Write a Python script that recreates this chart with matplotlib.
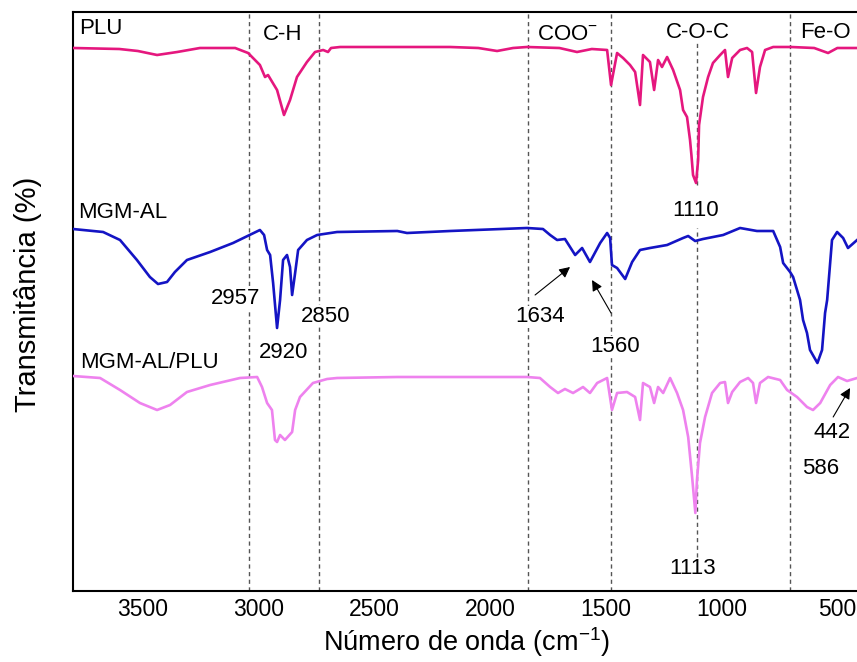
import numpy as np
import matplotlib
matplotlib.use("Agg")
import matplotlib.pyplot as plt

plt.rcParams['font.family'] = ['Liberation Sans', 'DejaVu Sans']
plt.rcParams['mathtext.fontset'] = 'custom'
plt.rcParams['mathtext.rm'] = 'Liberation Sans'
plt.rcParams['mathtext.default'] = 'rm'

## spectra (wavenumber in cm-1, stacked transmittance in arbitrary units)
plu_wn = [3800, 3600, 3520, 3437, 3350, 3252, 3100, 3044, 2993, 2971, 2958, 2919, 2889,
          2863, 2833, 2790, 2755, 2720, 2699, 2686, 2647, 2400, 2172, 2050, 1969, 1900,
          1840, 1700, 1624, 1560, 1494, 1477, 1451, 1425, 1395, 1373, 1352, 1339, 1309,
          1291, 1274, 1257, 1235, 1209, 1179, 1166, 1149, 1136, 1130, 1123, 1110, 1101,
          1097, 1080, 1058, 1037, 1006, 985, 972, 954, 920, 890, 868, 851, 834, 812,
          777, 700, 600, 540, 500, 400]
plu_t = [543, 542, 540, 536, 539, 543, 543, 538, 526, 514, 516, 501, 476,
         491, 514, 529, 539, 541, 539, 543, 544, 544, 544, 543, 540, 543,
         544, 543, 539, 542, 541, 506, 538, 533, 526, 519, 486, 536, 529,
         501, 531, 524, 534, 521, 501, 481, 474, 451, 436, 416, 408, 431,
         466, 494, 514, 528, 536, 541, 514, 533, 541, 543, 539, 498, 524, 541,
         544, 544, 543, 538, 543, 543]

mgm_wn = [3800, 3670, 3597, 3524, 3468, 3433, 3394, 3360, 3308, 3208, 3109, 2993, 2975,
          2962, 2949, 2936, 2919, 2906, 2893, 2876, 2863, 2854, 2841, 2828, 2790, 2746,
          2660, 2400, 2358, 2172, 1840, 1771, 1740, 1710, 1676, 1654, 1632, 1602, 1568,
          1524, 1494, 1481, 1473, 1451, 1416, 1386, 1352, 1309, 1235, 1166, 1144, 1114,
          1080, 993, 920, 847, 777, 747, 734, 704, 691, 674, 661, 648, 631, 618, 586,
          566, 553, 544, 523, 501, 475, 454, 400]
mgm_t = [362, 359, 351, 331, 314, 307, 309, 319, 331, 339, 348, 361, 356,
         341, 336, 308, 263, 291, 331, 336, 324, 296, 318, 341, 351, 356,
         359, 360, 358, 360, 363, 362, 356, 351, 352, 344, 336, 343, 329,
         348, 358, 353, 326, 323, 312, 329, 341, 343, 346, 353, 355, 350,
         352, 356, 363, 360, 360, 344, 328, 319, 314, 301, 291, 271, 258, 241, 228,
         241, 278, 291, 351, 359, 353, 343, 354]

mix_wn = [3800, 3683, 3597, 3511, 3437, 3381, 3308, 3208, 3079, 3005, 2984, 2962, 2941,
          2928, 2919, 2906, 2885, 2854, 2841, 2820, 2764, 2703, 2660, 2400, 2172, 1840,
          1784, 1740, 1706, 1676, 1641, 1598, 1568, 1537, 1494, 1473, 1451, 1408, 1373,
          1352, 1339, 1309, 1291, 1274, 1252, 1222, 1192, 1166, 1144, 1127, 1113, 1106,
          1093, 1071, 1041, 1006, 985, 972, 954, 920, 885, 864, 851, 834, 799, 747,
          717, 674, 631, 605, 574, 531, 497, 458, 400]
mix_t = [215, 213, 201, 188, 181, 186, 199, 206, 213, 214, 204, 188, 181,
         151, 149, 156, 151, 159, 181, 194, 208, 212, 213, 214, 214, 214,
         213, 204, 198, 202, 198, 204, 198, 208, 213, 181, 198, 199, 194,
         171, 208, 204, 188, 204, 198, 213, 198, 181, 154, 114, 78, 111,
         148, 174, 198, 208, 209, 188, 199, 209, 213, 208, 188, 208, 214, 211,
         201, 194, 184, 181, 188, 206, 214, 210, 214]

band_lines = [3040, 2740, 1835, 1477, 704]
coc_line = 1106

fig = plt.figure(figsize=(8.57, 6.62), dpi=100)
ax = fig.add_axes([73/857, 71/662, 787.5/857, 579/662])

for xv in band_lines:
    ax.plot([xv, xv], [0, 579], color='#555555', lw=1, dashes=(3, 2.5), zorder=1)
ax.plot([coc_line, coc_line], [406, 549], color='#555555', lw=1, dashes=(3, 2.5), zorder=1)
ax.plot([coc_line, coc_line], [34, 363], color='#555555', lw=1, dashes=(3, 2.5), zorder=1)

ax.plot(plu_wn, plu_t, color='#e5177e', lw=1.9, zorder=5)
ax.plot(mgm_wn, mgm_t, color='#1414c4', lw=1.9, zorder=5)
ax.plot(mix_wn, mix_t, color='#ee82ee', lw=1.9, zorder=5)

ax.set_xlim(3800, 400)
ax.set_ylim(0, 579)
ax.set_xticks([3500, 3000, 2500, 2000, 1500, 1000, 500])
ax.set_yticks([])
ax.tick_params(axis='x', length=0, pad=5, labelsize=16.5)
for s in ax.spines.values():
    s.set_linewidth(1.5)

box = dict(facecolor='white', edgecolor='none', pad=0.5)
fs = 16
ax.text(3774, 562, "PLU", fontsize=fs, ha='left', va='center')
ax.text(2893, 556, "C-H", fontsize=fs, ha='center', va='center')
ax.text(1665, 557, "COO$^{-}$", fontsize=fs, ha='center', va='center')
ax.text(1101, 559, "C-O-C", fontsize=fs, ha='center', va='center')
ax.text(553, 559, "Fe-O", fontsize=fs, ha='center', va='center')
ax.text(3778, 378, "MGM-AL", fontsize=fs, ha='left', va='center')
ax.text(3770, 229, "MGM-AL/PLU", fontsize=fs, ha='left', va='center')

ax.text(3096, 293, "2957", fontsize=fs, ha='center', va='center', bbox=box, zorder=3)
ax.text(2708, 275, "2850", fontsize=fs, ha='center', va='center', bbox=box, zorder=3)
ax.text(2889, 238, "2920", fontsize=fs, ha='center', va='center', bbox=box, zorder=3)
ax.text(1784, 274, "1634", fontsize=fs, ha='center', va='center', bbox=box, zorder=3)
ax.text(1460, 244, "1560", fontsize=fs, ha='center', va='center', bbox=box, zorder=3)
ax.text(1114, 381, "1110", fontsize=fs, ha='center', va='center', bbox=box, zorder=3)
ax.text(523, 158, "442", fontsize=fs, ha='center', va='center', bbox=box, zorder=3)
ax.text(570, 122, "586", fontsize=fs, ha='center', va='center', bbox=box, zorder=3)
ax.text(1123, 22, "1113", fontsize=fs, ha='center', va='center', bbox=box, zorder=3)

arr = dict(arrowstyle='-|>', color='black', lw=0.8, mutation_scale=16, shrinkA=0, shrinkB=0)
ax.annotate("", xy=(1654, 324), xytext=(1805, 296), arrowprops=arr, zorder=6)
ax.annotate("", xy=(1559, 311), xytext=(1477, 278), arrowprops=arr, zorder=6)
ax.annotate("", xy=(445, 203), xytext=(518, 174), arrowprops=arr, zorder=6)

fig.text(28/857, 1 - 294/662, "Transmitância (%)", rotation=90, fontsize=21,
         ha='center', va='center')
fig.text(466/857, 1 - 642/662, "Número de onda (cm$^{-1}$)", fontsize=19.5,
         ha='center', va='center')

fig.savefig("out.png", dpi=100)
